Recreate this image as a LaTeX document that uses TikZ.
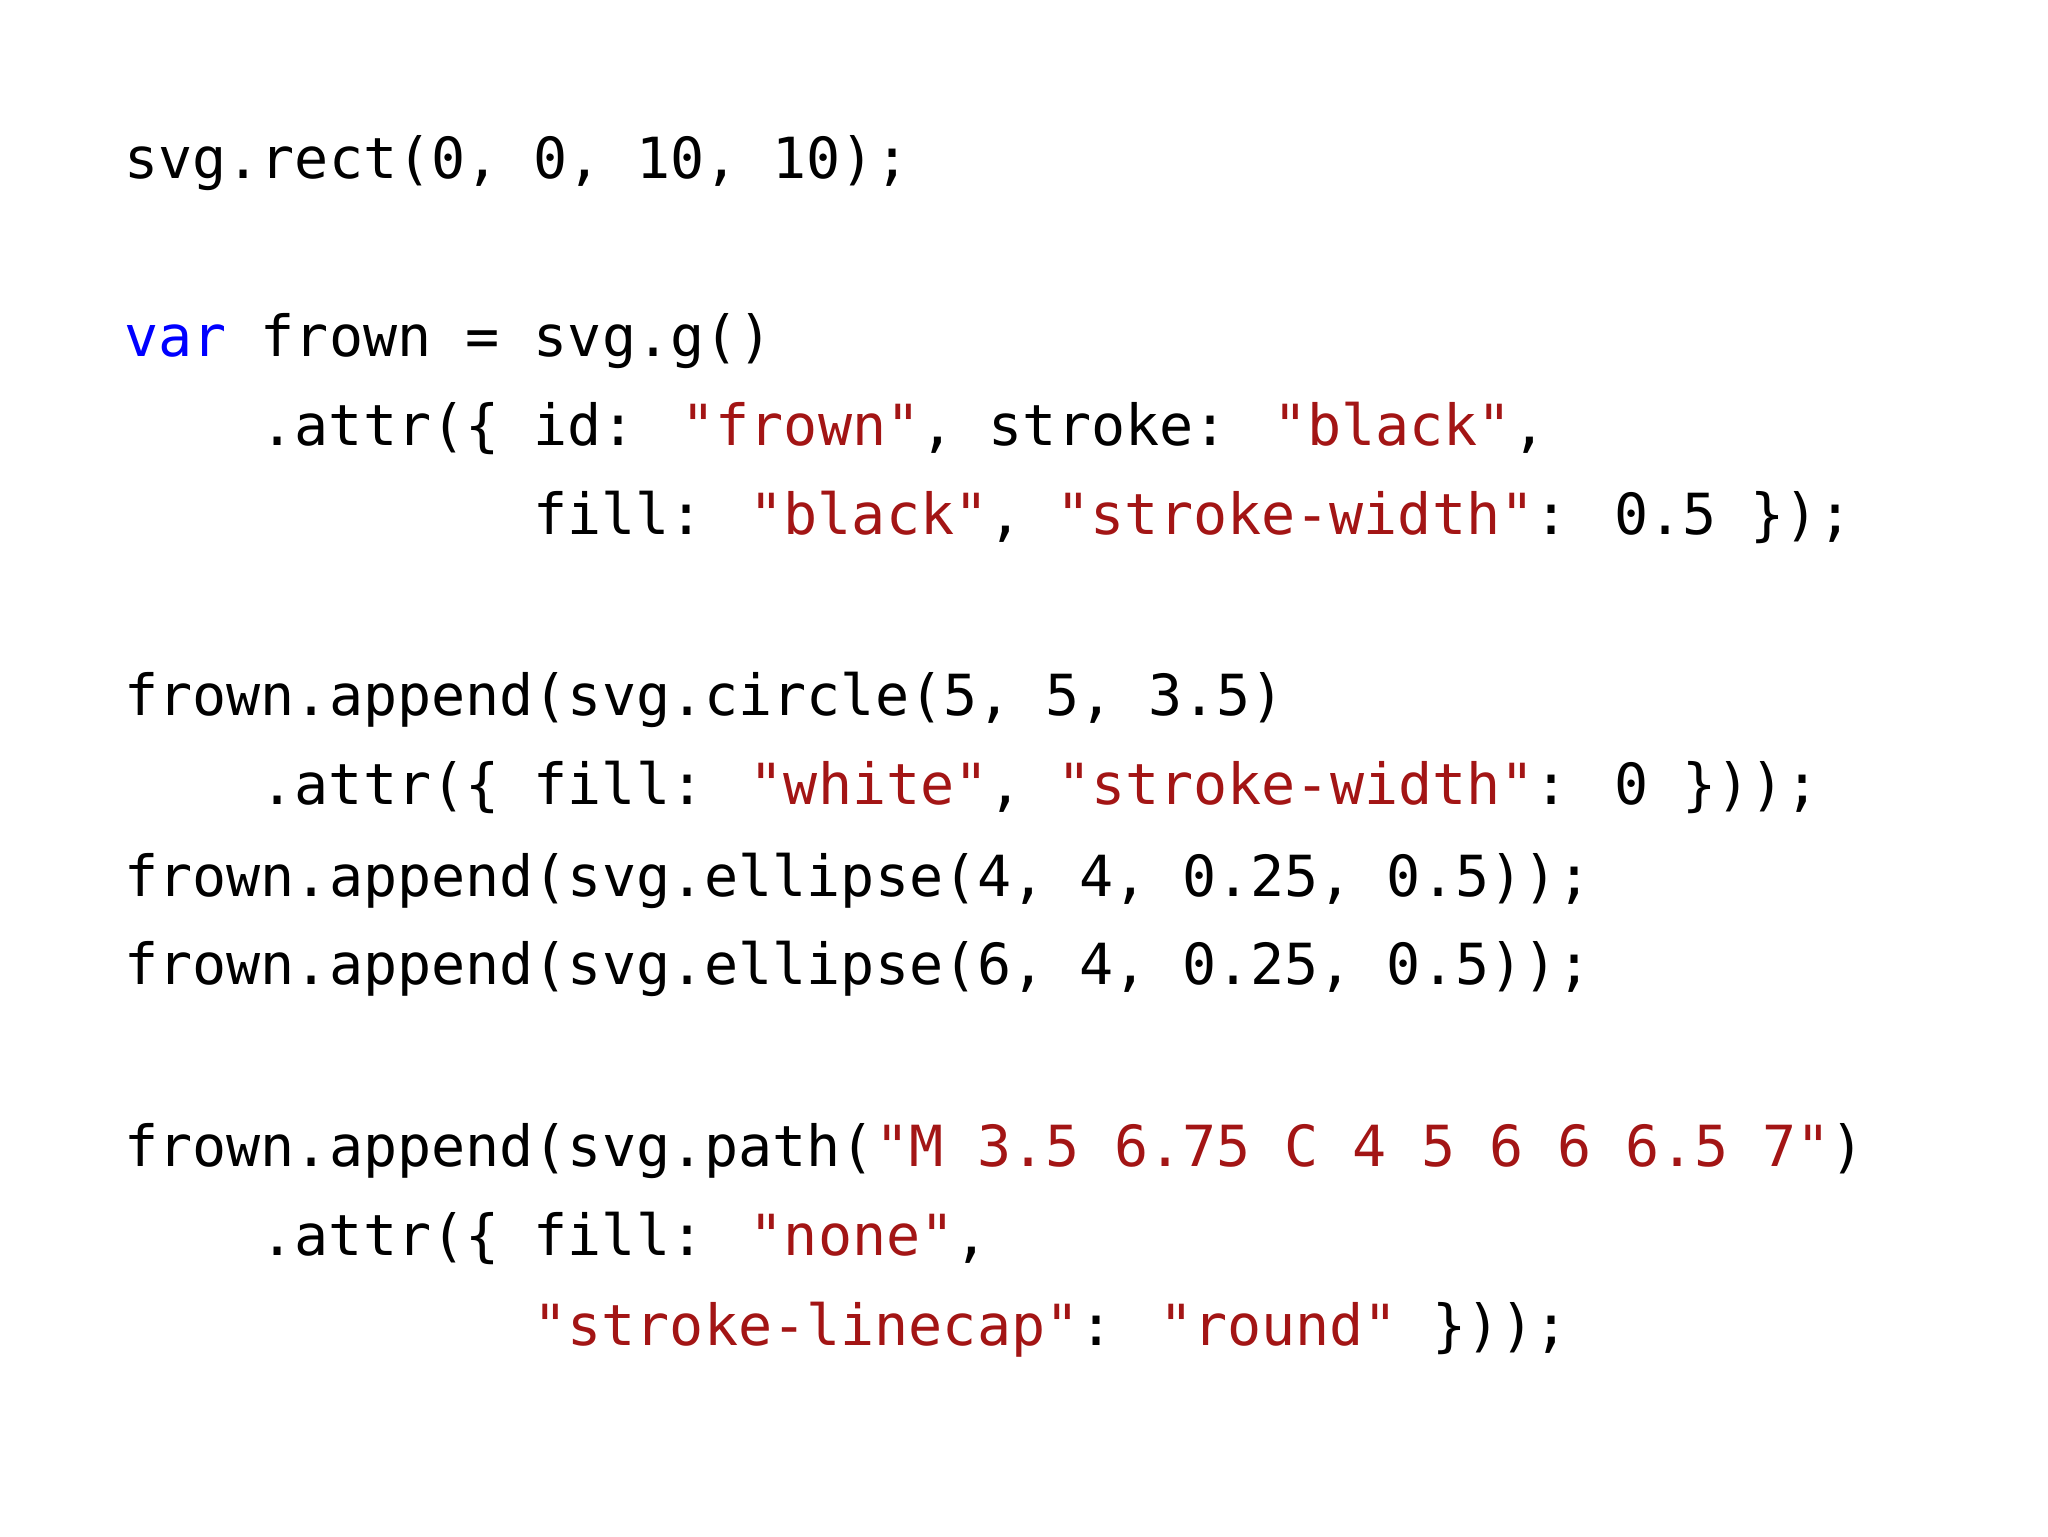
\documentclass[tikz,border=0pt]{standalone}
\usepackage{fontspec}
\newfontfamily\codefont{DejaVu Sans Mono}
\definecolor{kw}{RGB}{0,0,255}
\definecolor{st}{RGB}{163,21,21}
\newcommand{\kw}[1]{\textcolor{kw}{#1}}
\newcommand{\st}[1]{\textcolor{st}{#1}}
\begin{document}
\begin{tikzpicture}[x=1pt,y=-1pt,
  code/.style={anchor=base west,inner sep=0pt,font=\codefont\fontsize{43.4}{50}\selectfont}]
\useasboundingbox[fill=white] (0,0) rectangle (1568,1176);
\def\cw{26.1}
\node[code] (l1) at (95,137) {svg.rect(0, 0, 10, 10);};
\node[code] (l2) at (95,273) {\kw{var} frown = svg.g()};
\node[code] (l3) at (95+4*\cw,341) {.attr(\{ id: \st{"frown"}, stroke: \st{"black"},};
\node[code] (l4) at (95+12*\cw,409) {fill: \st{"black"}, \st{"stroke-width"}: 0.5 \});};
\node[code] (l5) at (95,548) {frown.append(svg.circle(5, 5, 3.5)};
\node[code] (l6) at (95+4*\cw,616) {.attr(\{ fill: \st{"white"}, \st{"stroke-width"}: 0 \}));};
\node[code] (l7) at (95,686) {frown.append(svg.ellipse(4, 4, 0.25, 0.5));};
\node[code] (l8) at (95,754) {frown.append(svg.ellipse(6, 4, 0.25, 0.5));};
\node[code] (l9) at (95,893) {frown.append(svg.path(\st{"M 3.5 6.75 C 4 5 6 6 6.5 7"})};
\node[code] (l10) at (95+4*\cw,961) {.attr(\{ fill: \st{"none"},};
\node[code] (l11) at (95+12*\cw,1030) {\st{"stroke-linecap"}: \st{"round"} \}));};
\end{tikzpicture}
\end{document}
